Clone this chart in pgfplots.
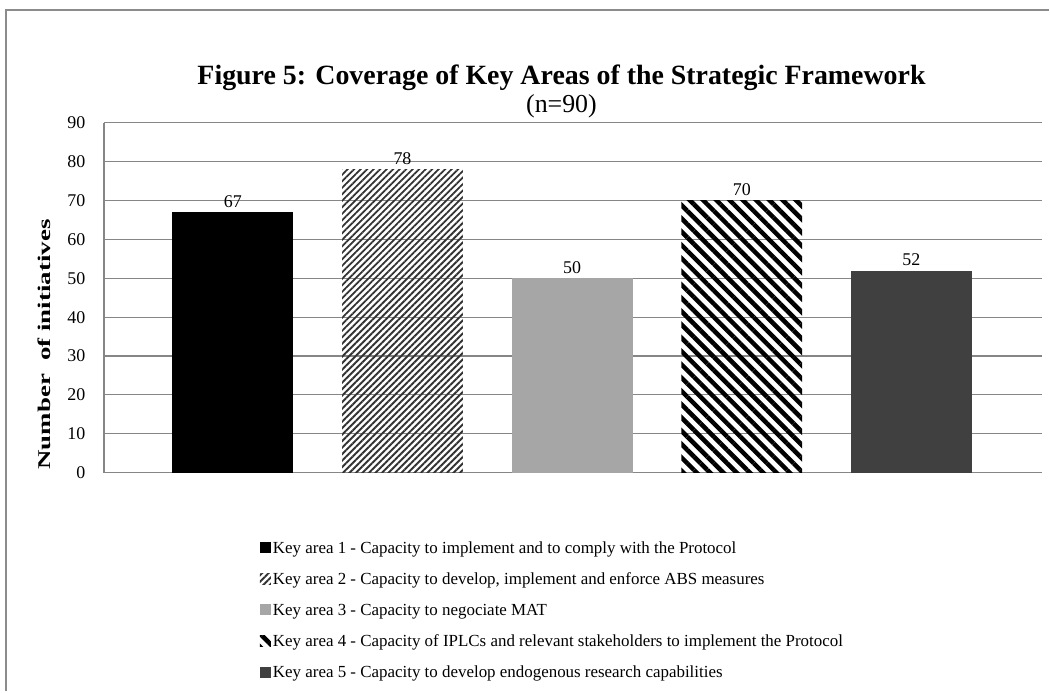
\documentclass[border=0pt]{standalone}
\usepackage{fontspec}
\setmainfont{Liberation Serif}
\usepackage{pgfplots}
\pgfplotsset{compat=1.18}
\usetikzlibrary{patterns.meta}
\definecolor{gridc}{HTML}{868686}
\definecolor{frame}{HTML}{8C8C8C}
\definecolor{ka3}{HTML}{A6A6A6}
\definecolor{ka5}{HTML}{404040}
\begin{document}
\begin{tikzpicture}
\path (0bp,0bp) rectangle (1050bp,692bp);
\draw[frame, line width=2bp] (6bp,0bp) -- (6bp,682bp) -- (1050bp,682bp);
\node[font=\bfseries\fontsize{28}{32}\selectfont] at (562bp,614bp) {Figure 5: Coverage of Key Areas of the Strategic Framework};
\node[font=\fontsize{26}{30}\selectfont] at (562bp,586bp) {(n=90)};
\begin{axis}[
  at={(104bp,219bp)}, anchor=south west, scale only axis,
  width=939bp, height=350bp,
  /pgf/number format/assume math mode=true,
  ybar, bar width=121bp,
  xmin=-0.76, xmax=4.77, xtick=\empty,
  ymin=0, ymax=90, ytick={0,10,...,90},
  ymajorgrids, grid style={gridc, line width=1.2bp},
  axis lines*=left, axis line style={gridc, line width=1.2bp, -},
  major tick length=0pt,
  y tick label style={font=\fontsize{18}{20}\selectfont, xshift=-15bp},
  ylabel={\scalebox{1.5}[1]{\textbf{Number\ \ of initiatives}}},
  every axis y label/.style={at={(axis description cs:-0.063,0.366)}, rotate=90, anchor=center, font=\fontsize{18}{20}\selectfont},
  nodes near coords,
  every node near coord/.append style={font=\fontsize{18}{20}\selectfont, black, yshift=1bp},
  legend style={at={(axis description cs:0.163,-0.185)}, anchor=north west, draw=none, fill=none,
    font=\fontsize{17}{20}\selectfont, row sep=14bp, nodes={inner sep=2bp}},
  legend cell align=left,
  legend image code/.code={\path[#1] (0bp,-5bp) rectangle (11bp,6bp);},
]
\addplot[fill=black, draw=none, bar shift=0pt] coordinates {(0,67)};
\addlegendentry{Key area 1 - Capacity to implement and to comply with the Protocol}
\addplot[pattern={Lines[angle=45, distance=4.6bp, line width=1.9bp]}, pattern color=black!80, draw=none, bar shift=0pt] coordinates {(1,78)};
\addlegendentry{Key area 2 - Capacity to develop, implement and enforce ABS measures}
\addplot[fill=ka3, draw=none, bar shift=0pt] coordinates {(2,50)};
\addlegendentry{Key area 3 - Capacity to negociate MAT}
\addplot[pattern={Lines[angle=-45, distance=9.4bp, line width=4.5bp]}, pattern color=black, draw=none, bar shift=0pt] coordinates {(3,70)};
\addlegendentry{Key area 4 - Capacity of IPLCs and relevant stakeholders to implement the Protocol}
\addplot[fill=ka5, draw=none, bar shift=0pt] coordinates {(4,52)};
\addlegendentry{Key area 5 - Capacity to develop endogenous research capabilities}
\end{axis}
\end{tikzpicture}
\end{document}
